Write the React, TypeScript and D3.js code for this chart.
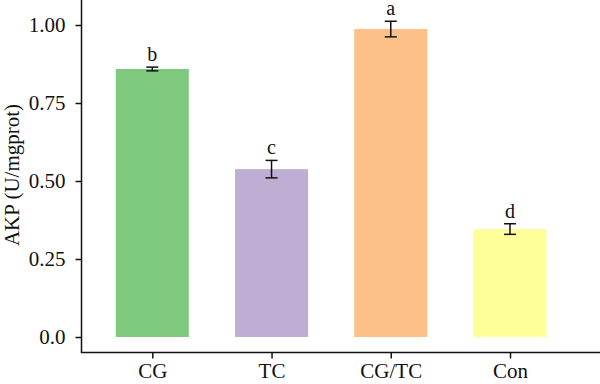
import React, { useRef, useEffect } from 'react';
import * as d3 from 'd3';

const groups = ['CG', 'TC', 'CG/TC', 'Con'];
const akpMeans = [0.859, 0.538, 0.987, 0.346];
const akpErrors = [0.006, 0.028, 0.025, 0.017];
const sigLetters = ['b', 'c', 'a', 'd'];
const yTickValues = [0, 0.25, 0.5, 0.75, 1.0];
const yTickLabels = ['0.0', '0.25', '0.50', '0.75', '1.00'];
const barColors = ['#7fc97f', '#beaed4', '#fdc086', '#ffff99'];

const FONT = '"Liberation Serif", "DejaVu Serif", serif';

const App = () => {
  const svgRef = useRef<SVGSVGElement>(null);

  useEffect(() => {
    const width = 600;
    const height = 384;
    const svg = d3.select(svgRef.current);
    svg.selectAll('*').remove();

    const axisX = 81.5;
    const axisY = 352.5;

    const y = d3.scaleLinear().domain([0, 1]).range([337, 25]);
    const x = d3.scalePoint<string>().domain(groups).range([152.3, 510]);
    const barW = 73;

    // bars
    svg.append('g')
      .selectAll('rect')
      .data(groups)
      .join('rect')
      .attr('x', d => x(d)! - barW / 2)
      .attr('width', barW)
      .attr('y', (d, i) => y(akpMeans[i]))
      .attr('height', (d, i) => y(0) - y(akpMeans[i]))
      .attr('fill', (d, i) => barColors[i]);

    // error bars + letters
    const capW = 12;
    const err = svg.append('g').attr('stroke', '#111').attr('stroke-width', 1.5);
    groups.forEach((g, i) => {
      const cx = x(g)!;
      const top = y(akpMeans[i] + akpErrors[i]);
      const bot = y(akpMeans[i] - akpErrors[i]);
      err.append('line').attr('x1', cx).attr('x2', cx).attr('y1', top).attr('y2', bot);
      err.append('line').attr('x1', cx - capW / 2).attr('x2', cx + capW / 2).attr('y1', top).attr('y2', top);
      err.append('line').attr('x1', cx - capW / 2).attr('x2', cx + capW / 2).attr('y1', bot).attr('y2', bot);
      svg.append('text')
        .attr('x', cx)
        .attr('y', top - 6)
        .attr('text-anchor', 'middle')
        .attr('font-family', FONT)
        .attr('font-size', 20)
        .attr('fill', '#111')
        .text(sigLetters[i]);
    });

    // y axis
    const yAxis = d3.axisLeft(y)
      .tickValues(yTickValues)
      .tickFormat((d, i) => yTickLabels[i])
      .tickSize(6)
      .tickPadding(10);
    const yg = svg.append('g').attr('transform', `translate(${axisX},0)`).call(yAxis);
    yg.select('.domain').remove();
    yg.append('line')
      .attr('x1', 0).attr('x2', 0)
      .attr('y1', 0).attr('y2', axisY - 0.25)
      .attr('stroke', '#111').attr('stroke-width', 1.5);

    // x axis
    const xAxis = d3.axisBottom(x).tickSize(6).tickPadding(5);
    const xg = svg.append('g').attr('transform', `translate(0,${axisY})`).call(xAxis);
    xg.select('.domain').remove();
    xg.append('line')
      .attr('x1', axisX - 0.75).attr('x2', width)
      .attr('y1', 0).attr('y2', 0)
      .attr('stroke', '#111').attr('stroke-width', 1.5);

    [yg, xg].forEach(g => {
      g.selectAll('.tick line').attr('stroke', '#111').attr('stroke-width', 1.5);
      g.selectAll('.tick text')
        .attr('font-family', FONT)
        .attr('font-size', 21)
        .attr('fill', '#111');
    });

    // y label
    svg.append('text')
      .attr('transform', `translate(19,${(y(0) + y(1)) / 2 - 6}) rotate(-90)`)
      .attr('text-anchor', 'middle')
      .attr('font-family', FONT)
      .attr('font-size', 21)
      .attr('fill', '#111')
      .text('AKP (U/mgprot)');

    svg.attr('width', width).attr('height', height);
  }, []);

  return (
    <svg
      ref={svgRef}
      width={600}
      height={384}
      style={{ position: 'absolute', left: 0, top: 0, background: '#fff' }}
    />
  );
};

export default App;
